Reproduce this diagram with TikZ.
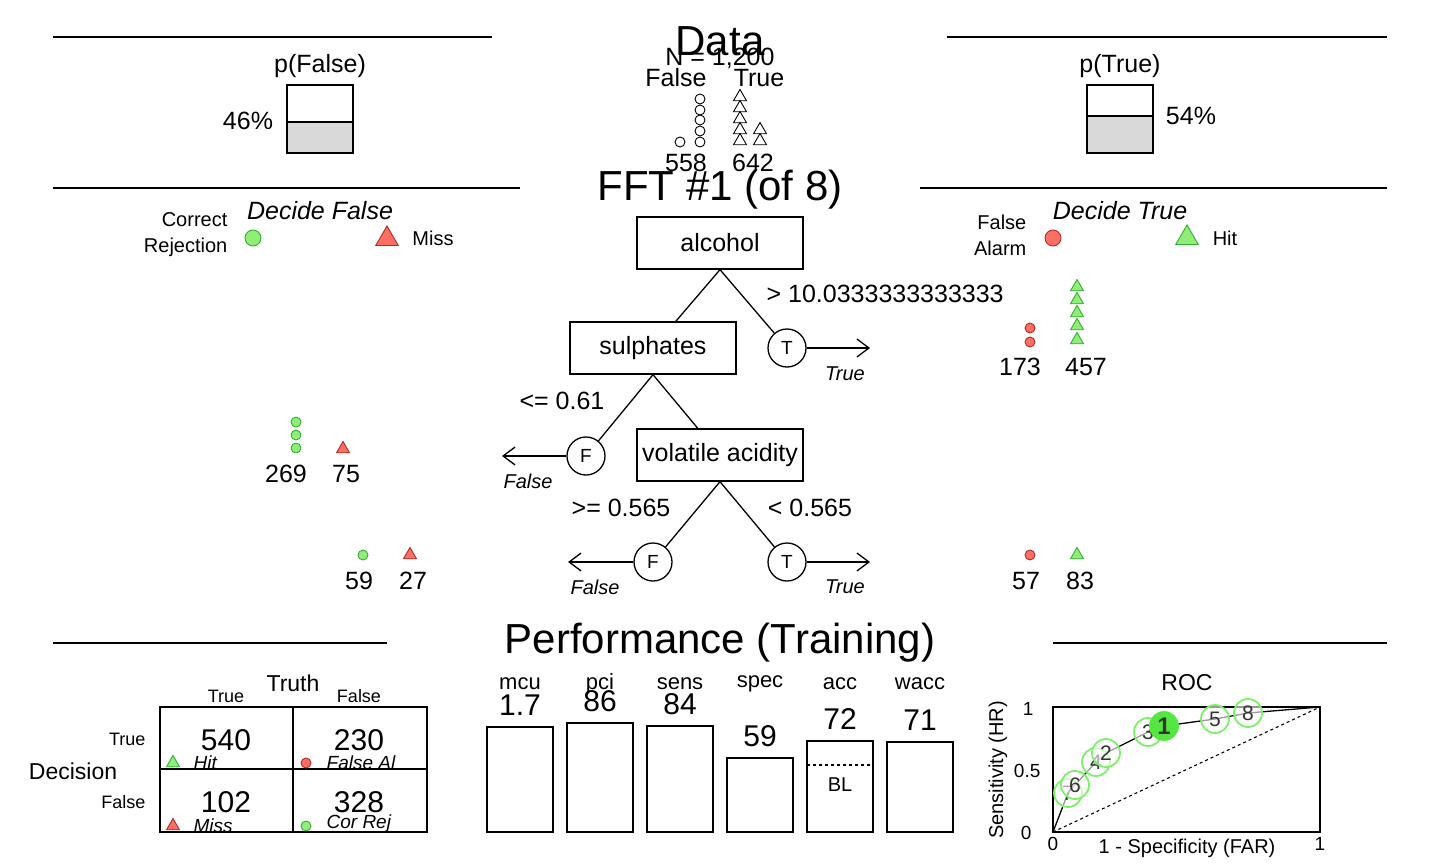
\documentclass[tikz,border=0pt]{standalone}
\usepackage{fontspec}
\setmainfont{Liberation Sans}
\usetikzlibrary{shapes.geometric,arrows.meta}

\definecolor{okfill}{RGB}{144,238,120}
\definecolor{okline}{RGB}{50,175,50}
\definecolor{badfill}{RGB}{250,112,100}
\definecolor{badline}{RGB}{180,40,40}
\definecolor{rocring}{RGB}{125,240,105}
\definecolor{rocbest}{RGB}{85,230,65}
\definecolor{pgray}{RGB}{217,217,217}

\newcommand{\fsz}[1]{\fontsize{#1}{#1}\selectfont}
\def\arrowtip{-{Straight Barb[length=12pt,width=18pt,line width=1.3pt]}}

\tikzset{
  txt/.style={inner sep=0, font=\fsz{25}},
  title/.style={inner sep=0, font=\fsz{42}},
  small/.style={inner sep=0, font=\fsz{19}},
  cuebox/.style={draw, line width=1.3, fill=white, minimum width=166, minimum height=52, inner sep=0, font=\fsz{25}},
  exitnode/.style={circle, draw, line width=1.3, fill=white, minimum size=38, inner sep=0, font=\fsz{19}},
  datacirc/.style={circle, draw, line width=0.9, fill=white, minimum size=10, inner sep=0},
  datatri/.style={regular polygon, regular polygon sides=3, draw, line width=0.9, fill=white, minimum size=15, inner sep=0},
  okcirc/.style={circle, draw=okline, fill=okfill, line width=0.9, minimum size=10, inner sep=0},
  badcirc/.style={circle, draw=badline, fill=badfill, line width=0.9, minimum size=10, inner sep=0},
  oktri/.style={regular polygon, regular polygon sides=3, draw=okline, fill=okfill, line width=0.9, minimum size=15, inner sep=0},
  badtri/.style={regular polygon, regular polygon sides=3, draw=badline, fill=badfill, line width=0.9, minimum size=15, inner sep=0},
  rocpt/.style={circle, draw=rocring, line width=1.8, fill=white, fill opacity=0.6, text opacity=1, text=black!80, minimum size=28, inner sep=0, font=\fsz{21}}
}

\begin{document}
\begin{tikzpicture}[x=1pt, y=-1pt, line width=1.3]
\useasboundingbox (0,0) rectangle (1440,864);

\draw (53,37) -- (492,37);
\draw (947,37) -- (1387,37);
\draw (53,188) -- (520,188);
\draw (920,188) -- (1387,188);
\draw (53,643) -- (387,643);
\draw (1053,643) -- (1387,643);

\node[title] (datatitle) at (720,41) {Data};
\node[txt] (ntotal) at (720,58) {N = 1,200};
\node[txt] (datafalse) at (676,78) {False};
\node[txt] (datatrue) at (759,78) {True};
\foreach \y [count=\i] in {99,110,120,131,142}
  \node[datacirc] (dc-\i) at (700,\y) {};
\node[datacirc] (dc-6) at (680,142) {};
\foreach \y [count=\i] in {97,108,119,130,141}
  \node[datatri] (dt-\i) at (740,\y) {};
\node[datatri] (dt-6) at (760,130) {};
\node[datatri] (dt-7) at (760,141) {};
\node[txt] (nfalse) at (686,163) {558};
\node[txt] (ntrue) at (753,163) {642};

\node[txt] (pfalse) at (320,66) {p(False)};
\fill[pgray] (287,122) rectangle (353,153);
\draw (287,85) rectangle (353,153);
\draw (287,122) -- (353,122);
\node[txt] (pfalseval) at (248,121) {46\%};
\node[txt] (ptrue) at (1120,66) {p(True)};
\fill[pgray] (1087,116) rectangle (1153,153);
\draw (1087,85) rectangle (1153,153);
\draw (1087,116) -- (1153,116);
\node[txt] (ptrueval) at (1191,116) {54\%};

\node[title] (ffttitle) at (720,190) {FFT \#1 (of 8)};
\node[txt, font=\fsz{25}\itshape] (decfalse) at (320,211) {Decide False};
\node[small, font=\fsz{20}, align=right, anchor=east] (correj) at (228,235) {Correct\\[6pt]Rejection};
\node[okcirc, minimum size=16] (legcr) at (253,238) {};
\node[badtri, minimum size=26] (legmiss) at (387,239) {};
\node[small, font=\fsz{20}] (missl) at (433,238) {Miss};
\node[txt, font=\fsz{25}\itshape] (dectrue) at (1120,211) {Decide True};
\node[small, font=\fsz{20}, align=right, anchor=east] (falarm) at (1027,235) {False\\[6pt]Alarm};
\node[badcirc, minimum size=16] (legfa) at (1053,238) {};
\node[oktri, minimum size=26] (leghit) at (1187,238) {};
\node[small, font=\fsz{20}] (hitl) at (1225,238) {Hit};

\node[cuebox] (alcohol) at (720,243) {alcohol};
\node[cuebox] (sulphates) at (653,348) {sulphates};
\node[cuebox] (volatile) at (720,455) {volatile acidity};
\node[exitnode] (t1) at (787,348) {T};
\node[exitnode] (f2) at (586,456) {F};
\node[exitnode] (f3) at (653,562) {F};
\node[exitnode] (t3) at (787,562) {T};
\coordinate (t1end) at (870,348);
\coordinate (f2end) at (502,456);
\coordinate (f3end) at (568,562);
\coordinate (t3end) at (870,562);

\draw (alcohol.south) -- (sulphates);
\draw (alcohol.south) -- (t1);
\draw (sulphates.south) -- (f2);
\draw (sulphates.south) -- (volatile);
\draw (volatile.south) -- (f3);
\draw (volatile.south) -- (t3);
\draw[\arrowtip] (t1) -- (t1end);
\draw[\arrowtip] (f2) -- (f2end);
\draw[\arrowtip] (f3) -- (f3end);
\draw[\arrowtip] (t3) -- (t3end);

\node[txt, anchor=west] (thr1) at (766,294) {> 10.0333333333333};
\node[txt] (thr2) at (562,401) {<= 0.61};
\node[txt] (thr3f) at (621,508) {>= 0.565};
\node[txt] (thr3t) at (810,508) {< 0.565};
\node[small, font=\fsz{20}\itshape] (t1lbl) at (845,374) {True};
\node[small, font=\fsz{20}\itshape] (f2lbl) at (528,481) {False};
\node[small, font=\fsz{20}\itshape] (f3lbl) at (595,587) {False};
\node[small, font=\fsz{20}\itshape] (t3lbl) at (845,587) {True};

\node[badcirc] (fa1-1) at (1030,328) {};
\node[badcirc] (fa1-2) at (1030,342) {};
\foreach \y [count=\i] in {287,300,313,326,340}
  \node[oktri] (hit1-\i) at (1077,\y) {};
\node[txt] (fa1n) at (1020,367) {173};
\node[txt] (hit1n) at (1086,367) {457};

\foreach \y [count=\i] in {422,435,448}
  \node[okcirc] (cr2-\i) at (296,\y) {};
\node[badtri] (miss2-1) at (343,449) {};
\node[txt] (cr2n) at (286,474) {269};
\node[txt] (miss2n) at (346,474) {75};

\node[okcirc] (cr3-1) at (363,555) {};
\node[badtri] (miss3-1) at (410,555) {};
\node[txt] (cr3n) at (359,581) {59};
\node[txt] (miss3n) at (413,581) {27};

\node[badcirc] (fa3-1) at (1030,555) {};
\node[oktri] (hit3-1) at (1077,555) {};
\node[txt] (fa3n) at (1026,581) {57};
\node[txt] (hit3n) at (1080,581) {83};

\node[title] (perftitle) at (720,643) {Performance (Training)};

\node[small, font=\fsz{23}] (truth) at (293,683) {Truth};
\node[small, font=\fsz{18}] (coltrue) at (226,696) {True};
\node[small, font=\fsz{18}] (colfalse) at (359,696) {False};
\node[small, font=\fsz{18}, anchor=east] (rowtrue) at (146,739) {True};
\node[small, font=\fsz{18}, anchor=east] (rowfalse) at (146,802) {False};
\node[small, font=\fsz{23}] (decision) at (73,771) {Decision};
\draw (160,707) rectangle (427,832);
\draw (293,707) -- (293,832);
\draw (160,769) -- (427,769);
\node[txt, font=\fsz{30}] (nhit) at (226,740) {540};
\node[txt, font=\fsz{30}] (nfa) at (359,740) {230};
\node[txt, font=\fsz{30}] (nmiss) at (226,802) {102};
\node[txt, font=\fsz{30}] (ncr) at (359,802) {328};
\node[oktri] (tabhit) at (173,763) {};
\node[badcirc] (tabfa) at (306,763) {};
\node[badtri] (tabmiss) at (173,826) {};
\node[okcirc] (tabcr) at (306,826) {};
\node[small, font=\fsz{19}\itshape, anchor=west] (tabhitl) at (193,763) {Hit};
\node[small, font=\fsz{19}\itshape, anchor=west] (tabfal) at (326,763) {False Al};
\node[small, font=\fsz{19}\itshape, anchor=west] (tabmissl) at (193,826) {Miss};
\node[small, font=\fsz{19}\itshape, anchor=west] (tabcrl) at (326,824) {Cor Rej};

\foreach \x/\top/\nm/\val/\vy in {487/727/mcu/1.7/705, 567/723/pci/86/701, 647/726/sens/84/704, 727/758/spec/59/736, 807/741/acc/72/719, 887/742/wacc/71/720} {
  \draw (\x,\top) rectangle (\x+66,832);
  \node[small, font=\fsz{22}] (bar-\nm) at (\x+33,684) {\nm};
  \node[txt, font=\fsz{30}] (val-\nm) at (\x+33,\vy) {\val};
}
\draw[dashed] (807,765) -- (873,765);
\node[small, font=\fsz{20}] (baseline) at (840,785) {BL};

\node[small, font=\fsz{23}] (roctitle) at (1187,683) {ROC};
\draw (1053,707) rectangle (1320,832);
\draw[dashed, line width=1.1] (1053,832) -- (1320,707);
\node[small, anchor=east] (ytick1) at (1034,709) {1};
\node[small, anchor=east] (ytick05) at (1041,771) {0.5};
\node[small, anchor=east] (ytick0) at (1032,833) {0};
\node[small] (xtick0) at (1053,844) {0};
\node[small] (xtick1) at (1320,844) {1};
\node[small, font=\fsz{20}] (xaxis) at (1187,848) {1 - Specificity (FAR)};
\node[small, font=\fsz{20}, rotate=90] (yaxis) at (998,770) {Sensitivity (HR)};
\draw (1053,832) -- (1068,793) -- (1075,785) -- (1096,762) -- (1106,753) -- (1148,732) -- (1164,726) -- (1215,719) -- (1248,713) -- (1320,707);
\foreach \n/\x/\y in {7/1068/793, 6/1075/785, 4/1096/762, 2/1106/753, 3/1148/732, 5/1215/719, 8/1248/713}
  \node[rocpt] (roc\n) at (\x,\y) {\n};
\node[rocpt, fill=rocbest, fill opacity=1, draw=rocbest, font=\fsz{24}\bfseries] (roc1) at (1164,726) {1};
\end{tikzpicture}
\end{document}
